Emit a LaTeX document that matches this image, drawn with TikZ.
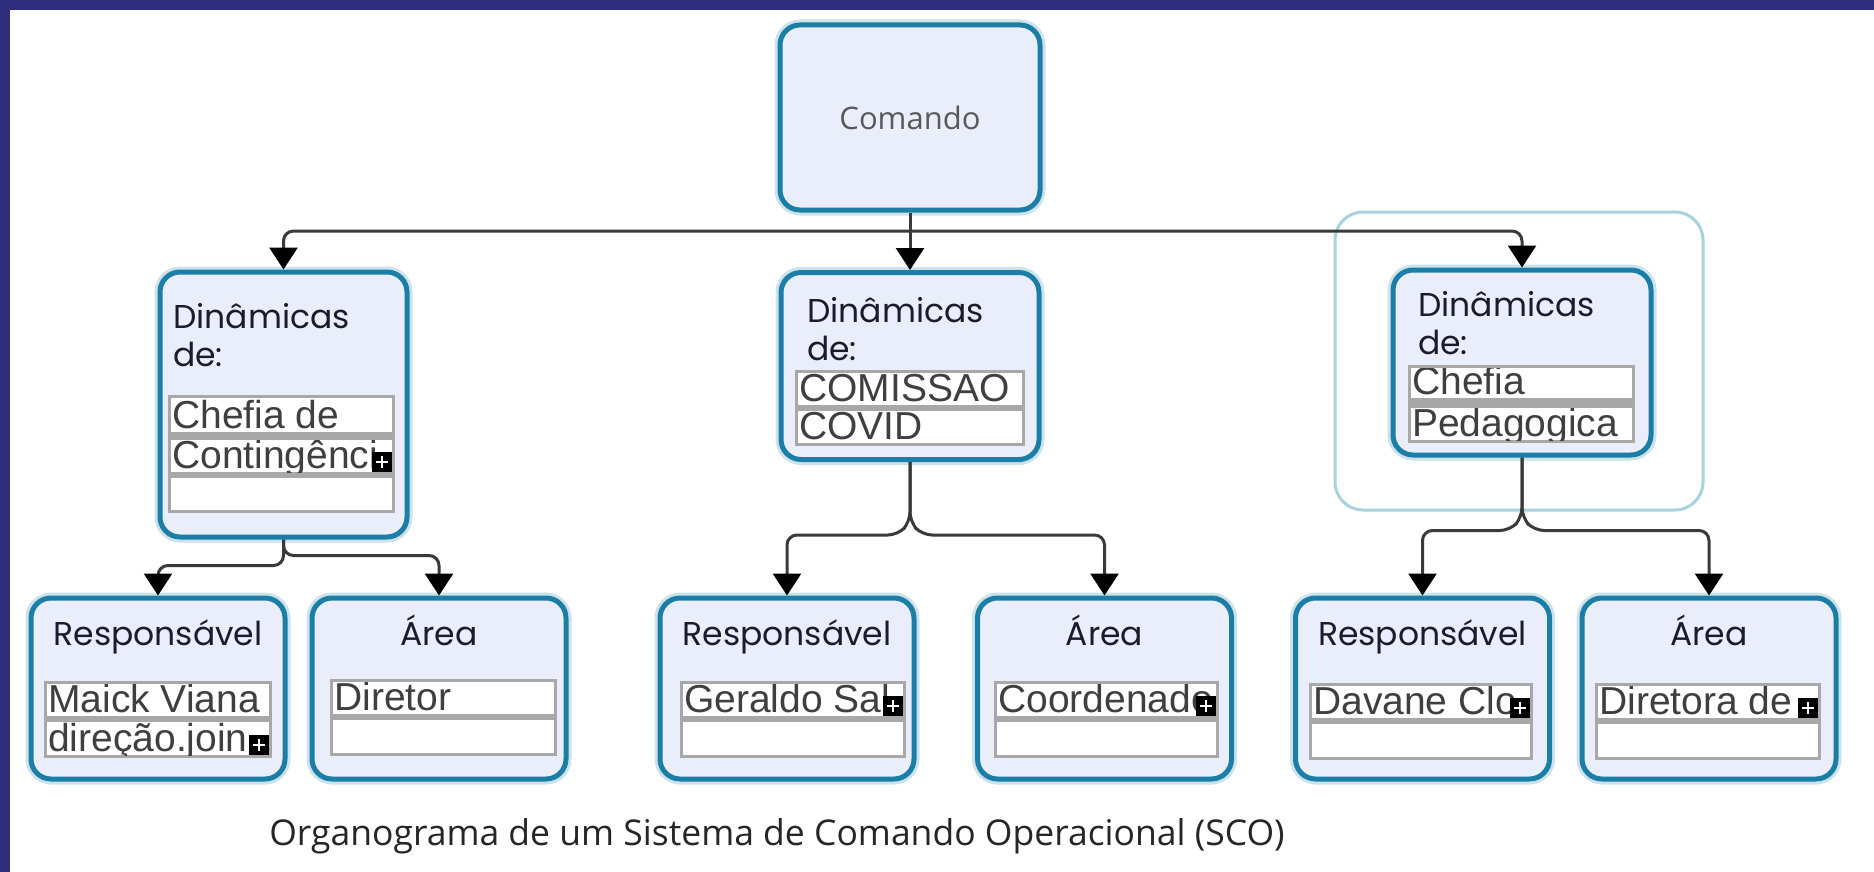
\documentclass[tikz,border=0pt]{standalone}
\usepackage{fontspec}
\setmainfont{Liberation Sans}
\newfontfamily\labelfont{Poppins}
\newfontfamily\capfont{Open Sans}
\usetikzlibrary{arrows.meta}

\definecolor{frameblue}{HTML}{2E2E7C}
\definecolor{boxedge}{HTML}{1B7EA6}
\definecolor{boxfill}{HTML}{EAEEFB}
\definecolor{fieldgray}{HTML}{A8A8A8}
\definecolor{linegray}{HTML}{3A3A3A}
\definecolor{selblue}{HTML}{A8D2DF}
\definecolor{fieldink}{HTML}{3F3F3F}
\definecolor{titleink}{HTML}{1B1B2F}

% one white row of a form field, its text cut at the row's edges
\newcommand{\fieldrow}[5]{%
    \fill[white] (#1,#2) rectangle (#3,#4);
    \begin{scope}
        \clip (#1,#2) rectangle (#3,#4);
        \node[fieldtext] at (#1+1,#4-4) {#5};
    \end{scope}}
% small black box with a plus, given by its bottom right corner
\newcommand{\plusmark}[2]{%
    \fill[black] (#1-20,#2-20) rectangle (#1,#2);
    \draw[white, line width=2pt] (#1-10,#2-16) -- (#1-10,#2-4) (#1-16,#2-10) -- (#1-4,#2-10);}

\begin{document}
\begin{tikzpicture}[x=1pt, y=-1pt,
        box/.style = {draw=boxedge, line width=5pt, fill=boxfill, rounded corners=20pt,
            preaction={draw=boxedge!22, line width=11pt}},
        lvl/.style = {box, minimum width=254pt, minimum height=181pt},
        title/.style = {font=\labelfont\fontsize{33}{38}\selectfont, text=titleink, inner sep=0},
        fieldtext/.style = {anchor=base west, inner sep=0, text=fieldink,
            font=\fontsize{39}{39}\selectfont},
        conn/.style = {draw=linegray, line width=3pt, rounded corners=10pt,
            -{Triangle[length=22pt, width=28pt, color=black]}}
    ]
    \useasboundingbox (0,0) rectangle (1874,872);
    \fill[white] (0,0) rectangle (1874,872);
    \fill[frameblue] (0,0) rectangle (10,872);
    \fill[frameblue] (0,0) rectangle (1874,10);

    % selection frame round the right box
    \draw[selblue, line width=3pt, rounded corners=28pt] (1335,212) rectangle (1703,510);

    \node[box, minimum width=260pt, minimum height=185pt, text=gray!70!black,
        font=\capfont\fontsize{31}{31}\selectfont] (cmd) at (910,117.5) {Comando};

    \node[box, minimum width=247pt, minimum height=265pt] (dinL) at (283.5,404.5) {};
    \node[box, minimum width=258pt, minimum height=187pt] (dinM) at (910,366) {};
    \node[box, minimum width=258pt, minimum height=185pt] (dinR) at (1522,362.5) {};
    \node[title, anchor=base west, align=left] at (173,366) {Dinâmicas\\de:};
    \node[title, anchor=base west, align=left] at (807,360) {Dinâmicas\\de:};
    \node[title, anchor=base west, align=left] at (1418,354) {Dinâmicas\\de:};

    \node[lvl] (respL) at (158,688.5) {};
    \node[lvl] (areaL) at (439,688.5) {};
    \node[lvl] (respM) at (787,688.5) {};
    \node[lvl] (areaM) at (1104.5,688.5) {};
    \node[lvl] (respR) at (1422.5,688.5) {};
    \node[lvl] (areaR) at (1709,688.5) {};
    \foreach \n in {respL, respM, respR}
        \node[title, anchor=base] at (\n |- 0,645) {Responsável};
    \foreach \n in {areaL, areaM, areaR}
        \node[title, anchor=base] at (\n |- 0,645) {Área};

    % fields
    \fill[fieldgray] (168,395) rectangle (395,513);
    \fieldrow{171}{398}{392}{432}{Chefia de}
    \fieldrow{171}{440}{392}{472}{Contingênci}
    \fieldrow{171}{478}{392}{510}{}
    \plusmark{392}{472}

    \fill[fieldgray] (795,370) rectangle (1025,446);
    \fieldrow{798}{373}{1022}{405}{COMISSAO}
    \fieldrow{798}{411}{1022}{443}{COVID}

    \fill[fieldgray] (1408,365) rectangle (1635,443);
    \fieldrow{1411}{368}{1632}{398}{Chefia}
    \fieldrow{1411}{408}{1632}{440}{Pedagogica}

    \fill[fieldgray] (44,681) rectangle (272,758);
    \fieldrow{47}{684}{269}{716}{Maick Viana}
    \fieldrow{47}{722}{269}{755}{direção.join}
    \plusmark{269}{755}

    \fill[fieldgray] (330,679) rectangle (557,756);
    \fieldrow{333}{682}{554}{714}{Diretor}
    \fieldrow{333}{720}{554}{753}{}

    \fill[fieldgray] (680,681) rectangle (906,758);
    \fieldrow{683}{684}{903}{716}{Geraldo Sal}
    \fieldrow{683}{722}{903}{755}{}
    \plusmark{903}{716}

    \fill[fieldgray] (994,681) rectangle (1219,758);
    \fieldrow{997}{684}{1216}{716}{Coordenado}
    \fieldrow{997}{722}{1216}{755}{}
    \plusmark{1216}{716}

    \fill[fieldgray] (1309,683) rectangle (1533,760);
    \fieldrow{1312}{686}{1530}{718}{Davane Clo}
    \fieldrow{1312}{724}{1530}{757}{}
    \plusmark{1530}{718}

    \fill[fieldgray] (1595,683) rectangle (1821,760);
    \fieldrow{1598}{686}{1818}{718}{Diretora de}
    \fieldrow{1598}{724}{1818}{757}{}
    \plusmark{1818}{718}

    % connectors
    \coordinate (topj) at (910,231);
    \draw[conn] (cmd.south) -- (dinM.north);
    \draw[conn] (topj) -| (dinL.north);
    \draw[conn] (topj) -| (dinR.north);

    \draw[conn] (dinL.south) -- ++(0,26) -| (respL.north);
    \draw[conn] (dinL.south) -- ++(0,16) -| (areaL.north);
    \draw[conn] (dinM.south) -- ++(0,60) -- ++(-12,13) -| (respM.north);
    \draw[conn] (dinM.south) -- ++(0,60) -- ++(12,13) -| (areaM.north);
    \draw[conn] (dinR.south) -- ++(0,60) -- ++(-12,13) -| (respR.north);
    \draw[conn] (dinR.south) -- ++(0,60) -- ++(12,13) -| (areaR.north);

    \node[font=\capfont\fontsize{35.5}{36}\selectfont, text=black!85] (caption) at (777,836)
        {Organograma de um Sistema de Comando Operacional (SCO)};
\end{tikzpicture}
\end{document}
